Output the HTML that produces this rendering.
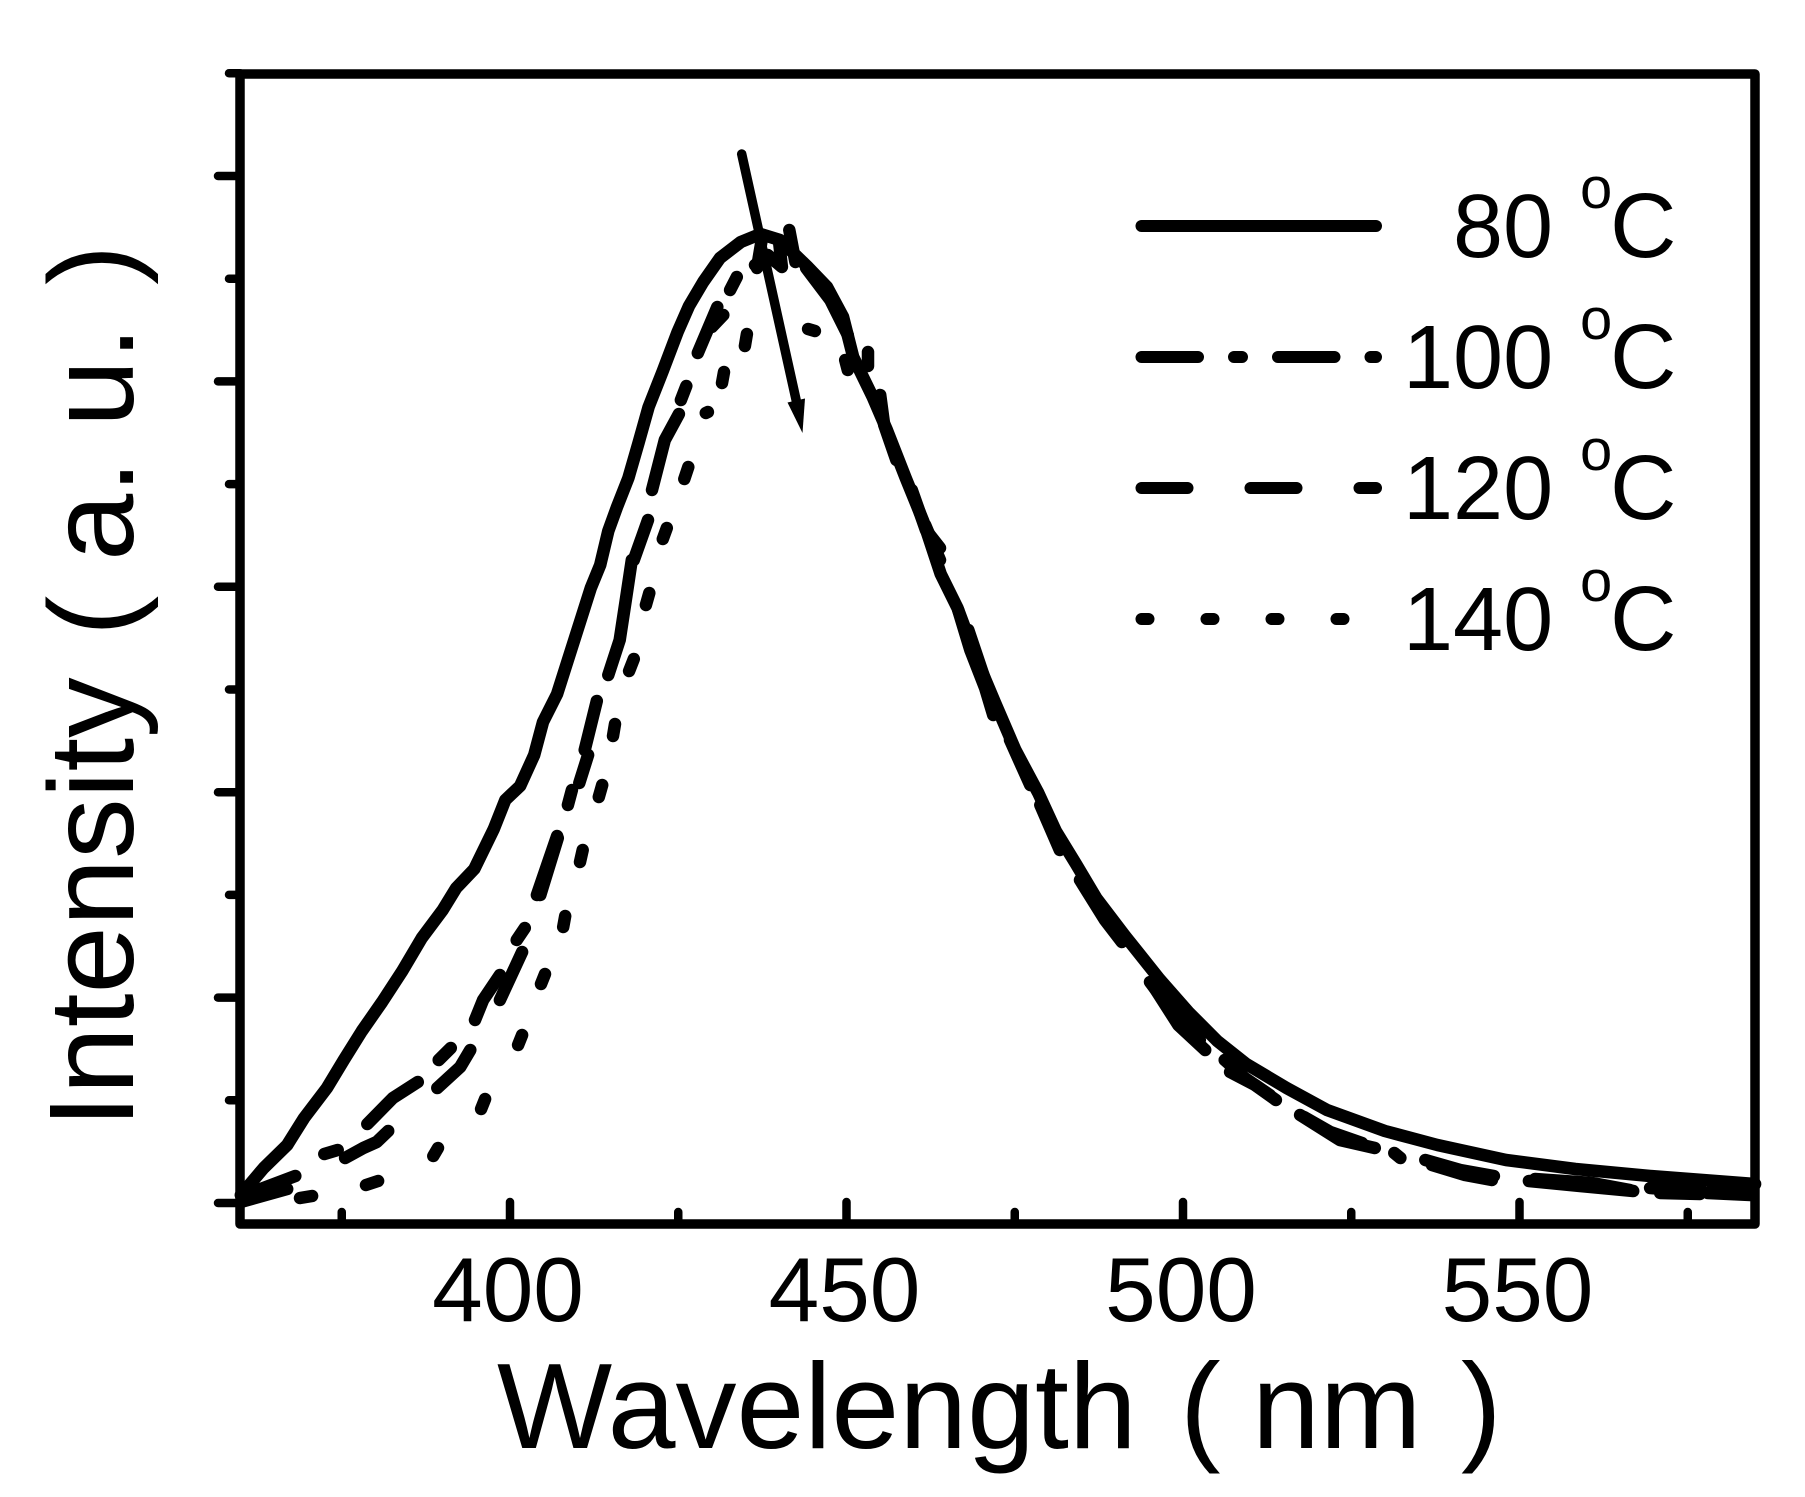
<!DOCTYPE html>
<html lang="en">
<head>
<meta charset="utf-8">
<title>Intensity vs Wavelength</title>
<style>
html,body{margin:0;padding:0;background:#fff;}
svg{display:block;}
text{font-family:"Liberation Sans",Arial,sans-serif;fill:#000;}
</style>
</head>
<body>
<svg id="chart" xmlns="http://www.w3.org/2000/svg" width="1805" height="1497" viewBox="0 0 1805 1497">
  <rect x="0" y="0" width="1805" height="1497" fill="#fff"/>
  <g id="ticks"></g>
  <g id="series"></g>
  <rect x="240" y="74" width="1515" height="1150" fill="none" stroke="#000" stroke-width="9.5" stroke-linejoin="round"/>
  <g id="tick-labels"></g>

  <g font-size="122">
    <text x="497" y="1448">Wavelength</text>
    <text x="1180" y="1448">(</text>
    <text x="1252" y="1448">nm</text>
    <text x="1461" y="1448">)</text>
  </g>
  <g font-size="121">
    <text transform="translate(133,1128) rotate(-90)">Intensity</text>
    <text transform="translate(133,636) rotate(-90)">(</text>
    <text transform="translate(133,561) rotate(-90)">a.</text>
    <text transform="translate(133,427) rotate(-90)">u.</text>
    <text transform="translate(133,285) rotate(-90)">)</text>
  </g>

  <g>
    <line x1="741.7" y1="154" x2="797" y2="404" stroke="#000" stroke-width="9.5" stroke-linecap="round"/>
    <polygon points="787.5,402.5 805,398.5 802.5,433" fill="#000"/>
  </g>

  <g>
    <g>
      <line x1="1141.5" y1="226" x2="1376" y2="226" stroke="#000" stroke-width="12" stroke-linecap="round"/>
      <text x="1453" y="257" font-size="90">80</text>
      <text x="1580" y="208" font-size="58">o</text>
      <text x="1610" y="257" font-size="92">C</text>
    </g>
    <g>
      <line x1="1141.5" y1="357" x2="1376" y2="357" stroke="#000" stroke-width="12" stroke-linecap="round" stroke-dasharray="56.5 36 8 36"/>
      <text x="1403" y="388" font-size="90">100</text>
      <text x="1580" y="339" font-size="58">o</text>
      <text x="1610" y="388" font-size="92">C</text>
    </g>
    <g>
      <line x1="1141.5" y1="488" x2="1376" y2="488" stroke="#000" stroke-width="12" stroke-linecap="round" stroke-dasharray="46 63"/>
      <text x="1403" y="519" font-size="90">120</text>
      <text x="1580" y="470" font-size="58">o</text>
      <text x="1610" y="519" font-size="92">C</text>
    </g>
    <g>
      <line x1="1141.5" y1="619" x2="1346" y2="619" stroke="#000" stroke-width="12" stroke-linecap="round" stroke-dasharray="7 58"/>
      <text x="1403" y="650" font-size="90">140</text>
      <text x="1580" y="601" font-size="58">o</text>
      <text x="1610" y="650" font-size="92">C</text>
    </g>
  </g>
</svg>
<script>
var xMajorTicks = [400, 450, 500, 550];
var xMinorTicks = [375, 425, 475, 525, 575];
var xTickLabels = ["400", "450", "500", "550"];
var yMajorTicks = [0, 205.4, 410.8, 616.2, 821.6, 1027];
var yMinorTicks = [102.7, 308.1, 513.5, 718.9, 924.3, 1129.7];

var wavelength80 = [360,363.4,366.9,369.4,372.8,375.3,378,381,384,386.9,390,392,394.7,397.6,399.3,401.5,403.6,404.9,407,408.6,410.4,412,413.4,414.6,415.9,417.6,419.1,420.6,422.7,424.9,426.6,428.7,431.2,434.3,437.2,440.1,444.1,447.1,449.5,451,453.9,456,458.8,461.4,464,466.5,469.1,472.1,475.1,478.5,481.1,484.1,487.1,491.4,496.5,500.8,505.1,509.4,515.4,521.4,530,537.8,548,558.3,569.4,585];
var intensity80 = [8,35,58,85,115,143,172,201,232,265,293,315,334,374,403,417,448,481,509,543,581,615,638,672,696,725,760,796,832,871,897,921,945,961,969,963,937,916,886,846,806,773,725,682,629,595,548,500,453,410,372,339,305,267,224,191,162,139,115,93,72,58,43,34,27,19];

var wavelength100 = [361.4,368.1,0,375.5,378.2,380.2,381.9,0,389.2,392.6,394.1,0,398.5,401.8,0,401,402.2,0,404,407,0,408.6,409.2,0,411.1,412.9,0,418.4,420.5,0,421.1,423,425.1,0,425.4,426.2,0,427.9,430.8,0,432.7,433.7,0,436.7,437.4,0,441.5,442.4,0,444,447.6,450.2,0,455,455.6,457.4,0,459.7,461.8,463.9,0,466.6,468.4,470.6,471.8,0,474.3,477.3,0,478.8,481.7,0,484.7,488.4,490.9,0,495.1,498.8,502.5,0,506.2,509.2,512.9,0,518,521.9,526.6,0,536,541.2,546.2,0,551.4,559,566.9,0,569.4,577.1,0,578,584.3];
var intensity100 = [10,27,null,45,55,61,72,null,115,136,153,null,203,251,null,263,275,null,308,367,null,398,413,null,453,502,null,643,683,null,713,763,789,null,803,817,null,850,896,null,913,926,null,935,963,null,973,941,null,935,903,868,null,808,778,743,null,713,673,655,null,593,553,515,488,null,463,418,null,398,353,null,323,283,261,null,221,188,163,null,143,125,108,null,86,71,60,null,43,33,27,null,22,17,12,null,15,12,null,10,8];

var wavelength120 = [360,366.9,0,372.4,374.4,0,378.8,382.6,386.3,0,389.4,391.2,0,394.8,396,398.5,0,404.5,407.1,0,410.3,411.6,0,414.6,416.3,417.2,418.1,0,430,431.7,0,436.4,438.3,440.4,440,0,449.8,450.2,0,453.2,453.2,0,461.7,463.9,0,468.1,470.6,0,485.4,490.3,0,495.5,499.3,503.3,0,507,510.7,513.8,0,517.4,523.3,528.5,0,537,541.9,545.9,0,552.3,560.8,566.4,0,570.9,576.8,0,578.6,584.3];
var intensity120 = [1,14,null,49,53,null,79,105,121,null,143,155,null,183,203,228,null,308,365,null,420,448,null,528,563,603,643,null,876,888,null,938,948,936,960,null,843,833,null,851,837,null,678,643,null,573,523,null,318,268,null,218,178,153,null,131,118,103,null,88,63,55,null,38,28,23,null,24,20,13,null,10,9,null,13,13];

var wavelength140 = [368.8,370.6,0,378.6,380.4,0,388.6,389.3,0,395.7,396.3,0,401.2,401.8,0,404.6,405.2,0,407.9,408.2,0,410.4,410.8,0,413.2,413.7,0,415.3,415.6,0,417.7,418.4,0,420.2,420.7,0,422.7,423.3,0,425.9,426.5,0,429.1,429.4,0,431.5,431.8,0,434.9,435.2,0,444.3,445.3,0,531.4,532.3];
var intensity140 = [5,7,null,18,22,null,47,55,null,94,104,null,158,168,null,219,229,null,276,287,null,341,353,null,406,418,null,467,479,null,532,544,null,598,610,null,664,675,null,724,736,null,790,791,null,820,831,null,857,869,null,874,872,null,50,45];

var SVG_NS = "http://www.w3.org/2000/svg";
function xScale(nm) { return 510 + (nm - 400) * 6.73; }
function yScale(v) { return 1203 - v; }

var ticksGroup = document.getElementById("ticks");
var labelGroup = document.getElementById("tick-labels");
var seriesGroup = document.getElementById("series");

function addTick(x1, y1, x2, y2, name) {
  var t = document.createElementNS(SVG_NS, "line");
  t.setAttribute("x1", x1);
  t.setAttribute("y1", y1);
  t.setAttribute("x2", x2);
  t.setAttribute("y2", y2);
  t.setAttribute("stroke", "#000");
  t.setAttribute("stroke-width", "8.5");
  t.setAttribute("stroke-linecap", "round");
  
  
  ticksGroup.appendChild(t);
}

xMajorTicks.forEach(function (v) { addTick(xScale(v), 1224, xScale(v), 1202, "x-major-tick"); });
xMinorTicks.forEach(function (v) { addTick(xScale(v), 1224, xScale(v), 1212, "x-minor-tick"); });
yMajorTicks.forEach(function (v) { addTick(240, yScale(v), 218, yScale(v), "y-major-tick"); });
yMinorTicks.forEach(function (v) { addTick(240, yScale(v), 229, yScale(v), "y-minor-tick"); });

xMajorTicks.forEach(function (v, i) {
  var t = document.createElementNS(SVG_NS, "text");
  t.setAttribute("x", xScale(v) - 2);
  t.setAttribute("y", 1321);
  t.setAttribute("font-size", "91");
  t.setAttribute("text-anchor", "middle");
  
  
  t.textContent = xTickLabels[i];
  labelGroup.appendChild(t);
});

function drawSeries(wavelengths, intensities, name) {
  var d = "";
  var pen = false;
  for (var i = 0; i < intensities.length; i++) {
    if (intensities[i] === null) { pen = false; continue; }
    d += (pen ? "L" : "M") + xScale(wavelengths[i]).toFixed(1) + " " + yScale(intensities[i]).toFixed(1);
    pen = true;
  }
  var p = document.createElementNS(SVG_NS, "path");
  p.setAttribute("d", d);
  p.setAttribute("fill", "none");
  p.setAttribute("stroke", "#000");
  p.setAttribute("stroke-width", "12.5");
  p.setAttribute("stroke-linecap", "round");
  p.setAttribute("stroke-linejoin", "round");
  
  
  seriesGroup.appendChild(p);
}

drawSeries(wavelength80, intensity80, "series-80c");
drawSeries(wavelength100, intensity100, "series-100c");
drawSeries(wavelength120, intensity120, "series-120c");
drawSeries(wavelength140, intensity140, "series-140c");
</script>
</body>
</html>
